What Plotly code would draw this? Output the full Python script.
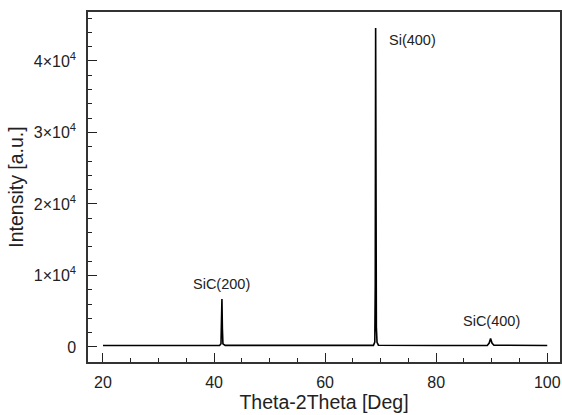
import plotly.graph_objects as go

two_theta = [20, 30, 41.0, 41.25, 41.35, 41.42, 41.5, 41.6, 42.0, 55, 68.7, 68.95, 69.03, 69.1, 69.17, 69.23, 69.35, 69.6,
             80, 89.2, 89.55, 89.8, 90.05, 90.4, 100]
intensity = [200, 200, 200, 450, 3200, 6700, 2600, 450, 220, 200, 220, 700, 8700, 44600, 8600, 2800, 650, 250,
             200, 220, 550, 1200, 550, 250, 200]

ytick_vals = [0, 10000, 20000, 30000, 40000]
ytick_text = ["0", "1×10<sup>4</sup>", "2×10<sup>4</sup>", "3×10<sup>4</sup>", "4×10<sup>4</sup>"]
xtick_vals = [20, 40, 60, 80, 100]

peak_labels = ["SiC(200)", "Si(400)", "SiC(400)"]
peak_x = [41.4, 75.8, 89.9]
peak_y = [8800, 42900, 3650]

fig = go.Figure()
fig.add_trace(go.Scatter(x=two_theta, y=intensity, mode="lines",
                         line=dict(color="black", width=1.6), showlegend=False))

for t, xx, yy in zip(peak_labels, peak_x, peak_y):
    fig.add_annotation(x=xx, y=yy, text=t, showarrow=False,
                       font=dict(size=14.5, color="#222"))

font = "Liberation Sans, Arial, Helvetica, sans-serif"
fig.update_layout(
    width=562, height=415,
    margin=dict(l=88, r=2, t=12, b=53),
    plot_bgcolor="white", paper_bgcolor="white",
    font=dict(family=font, color="#222", size=16),
    xaxis=dict(range=[17.3, 102.3], tickvals=xtick_vals, ticks="inside", ticklen=9,
               tickwidth=1.2, tickcolor="#222", showline=True, linecolor="#333", linewidth=1.5,
               mirror=True, showgrid=False, zeroline=False, ticklabelstandoff=5, automargin=False,
               minor=dict(dtick=5, tick0=0, ticks="inside", ticklen=4, tickcolor="#222", tickwidth=1),
               title=dict(text="Theta-2Theta [Deg]", font=dict(size=19.5), standoff=5)),
    yaxis=dict(range=[-2100, 46850], tickvals=ytick_vals, ticktext=ytick_text, ticks="inside",
               ticklen=9, tickwidth=1.2, tickcolor="#222", showline=True, linecolor="#333",
               linewidth=1.5, mirror=True, showgrid=False, zeroline=False, ticklabelstandoff=7,
               automargin=False,
               minor=dict(dtick=2000, tick0=0, ticks="inside", ticklen=4, tickcolor="#222", tickwidth=1),
               title=dict(text="Intensity [a.u.]", font=dict(size=19.5), standoff=5)),
)

fig.write_html("out.html")
